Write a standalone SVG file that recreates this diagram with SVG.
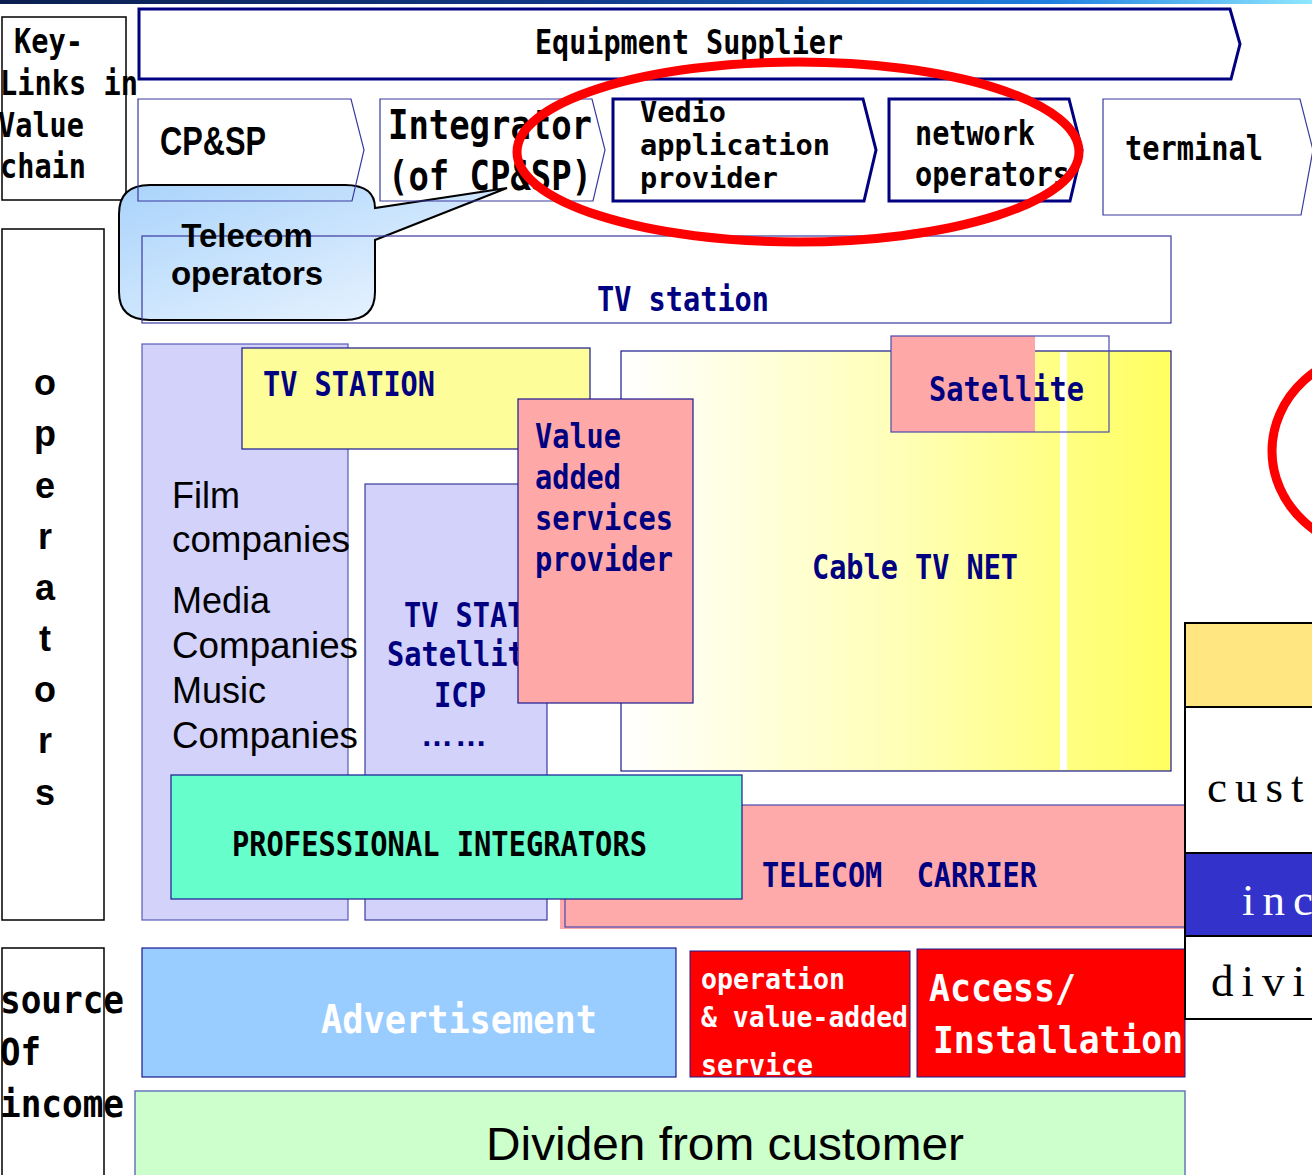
<svg xmlns="http://www.w3.org/2000/svg" width="1312" height="1175" viewBox="0 0 1312 1175">
  <defs>
    <linearGradient id="topBand" x1="0" y1="0" x2="1" y2="0">
      <stop offset="0" stop-color="#0b1f4f"/>
      <stop offset="0.45" stop-color="#123a8a"/>
      <stop offset="0.8" stop-color="#1f7fe0"/>
      <stop offset="1" stop-color="#8fe8ff"/>
    </linearGradient>
    <linearGradient id="calloutFill" x1="0" y1="0" x2="1" y2="1">
      <stop offset="0" stop-color="#a9d3fb"/>
      <stop offset="1" stop-color="#f2f8ff"/>
    </linearGradient>
    <linearGradient id="cableFill" x1="0" y1="0" x2="1" y2="0">
      <stop offset="0" stop-color="#ffffff"/>
      <stop offset="0.5" stop-color="#ffffb8"/>
      <stop offset="1" stop-color="#ffff60"/>
    </linearGradient>
    <style>
      .m { font-family: "DejaVu Sans Mono", "Liberation Mono", monospace; font-weight: bold; font-size: 33px; }
      .sans { font-family: "Liberation Sans", Arial, sans-serif; }
      .serif { font-family: "Liberation Serif", "Times New Roman", serif; font-size: 45px; letter-spacing: 8px; }
      .navy { fill: #000080; }
      .blk { fill: #000000; }
      .wht { fill: #ffffff; }
      .thick { fill: none; stroke: #000080; stroke-width: 3; }
      .thin { fill: none; stroke: #3a3aa0; stroke-width: 1.2; }
      .frame { fill: #ffffff; stroke: #000000; stroke-width: 1.5; }
      .ring { fill: none; stroke: #ff0000; stroke-width: 9; }
    </style>
  </defs>

  <rect x="0" y="0" width="1312" height="1175" fill="#ffffff"/>
  <rect x="0" y="0" width="1312" height="4" fill="url(#topBand)"/>

  <!-- left-hand legend column -->
  <g id="key-links">
    <rect class="frame" x="2" y="17" width="124" height="183"/>
    <text class="m blk" x="14" y="53" textLength="69" lengthAdjust="spacingAndGlyphs">Key-</text>
    <text class="m blk" x="0" y="95" textLength="138" lengthAdjust="spacingAndGlyphs">Links in</text>
    <text class="m blk" x="-2" y="137" textLength="86" lengthAdjust="spacingAndGlyphs">Value</text>
    <text class="m blk" x="0" y="178" textLength="86" lengthAdjust="spacingAndGlyphs">chain</text>
  </g>

  <g id="operators">
    <rect class="frame" x="2" y="229" width="102" height="691"/>
    <g class="sans blk" font-size="36" font-weight="bold" text-anchor="middle">
      <text x="45" y="395">o</text>
      <text x="45" y="446">p</text>
      <text x="45" y="498">e</text>
      <text x="45" y="549">r</text>
      <text x="45" y="600">a</text>
      <text x="45" y="651">t</text>
      <text x="45" y="702">o</text>
      <text x="45" y="753">r</text>
      <text x="45" y="805">s</text>
    </g>
  </g>

  <g id="source-of-income">
    <rect class="frame" x="2" y="948" width="102" height="240"/>
    <text class="m blk" x="0" y="1013" style="font-size:37px" textLength="124" lengthAdjust="spacingAndGlyphs">source</text>
    <text class="m blk" x="0" y="1065" style="font-size:37px" textLength="41" lengthAdjust="spacingAndGlyphs">Of</text>
    <text class="m blk" x="0" y="1117" style="font-size:37px" textLength="124" lengthAdjust="spacingAndGlyphs">income</text>
  </g>

  <!-- value chain arrows -->
  <g id="equipment-supplier">
    <polygon class="thick" points="139,9 1230,9 1240,44 1231,79 139,79"/>
    <text class="m blk" x="535" y="54" textLength="308" lengthAdjust="spacingAndGlyphs">Equipment Supplier</text>
  </g>

  <!-- speech bubble -->
  <g id="telecom-operators">
    <path d="M150,185 H345 Q375,185 375,208 L507,188 L375,240 V292 Q375,320 345,320 H150 Q119,320 119,292 V214 Q119,185 150,185 Z" fill="url(#calloutFill)" stroke="#000000" stroke-width="2"/>
  </g>

  <g id="cp-sp">
    <polygon class="thin" points="138,99 351,99 364,150 352,201 138,201"/>
    <text class="sans blk" x="160" y="155" font-size="40" font-weight="bold" textLength="106" lengthAdjust="spacingAndGlyphs">CP&amp;SP</text>
  </g>

  <g id="integrator">
    <polygon class="thin" points="380,99 592,99 605,150 593,201 380,201"/>
    <text class="m blk" x="388" y="139" style="font-size:40px" textLength="204" lengthAdjust="spacingAndGlyphs">Integrator</text>
    <text class="m blk" x="388" y="190" style="font-size:40px" textLength="204" lengthAdjust="spacingAndGlyphs">(of CP&amp;SP)</text>
  </g>

  <g id="video-app-provider">
    <polygon class="thick" points="613,99 863,99 876,150 864,201 613,201"/>
    <text class="m blk" x="640" y="122" style="font-size:28px" textLength="86" lengthAdjust="spacingAndGlyphs">Vedio</text>
    <text class="m blk" x="640" y="155" style="font-size:28px" textLength="190" lengthAdjust="spacingAndGlyphs">application</text>
    <text class="m blk" x="640" y="188" style="font-size:28px" textLength="138" lengthAdjust="spacingAndGlyphs">provider</text>
  </g>

  <g id="network-operators">
    <polygon class="thick" points="889,99 1069,99 1082,150 1070,201 889,201"/>
    <text class="m blk" x="915" y="145" textLength="120" lengthAdjust="spacingAndGlyphs">network</text>
    <text class="m blk" x="915" y="186" textLength="155" lengthAdjust="spacingAndGlyphs">operators</text>
  </g>

  <g id="terminal">
    <polygon class="thin" points="1103,99 1300,99 1313,150 1301,215 1103,215"/>
    <text class="m blk" x="1125" y="160" textLength="138" lengthAdjust="spacingAndGlyphs">terminal</text>
  </g>

  <g id="tv-station-band">
    <rect class="thin" x="142" y="236" width="1029" height="87"/>
    <text class="m navy" x="597" y="311" textLength="172" lengthAdjust="spacingAndGlyphs">TV station</text>
  </g>

  <g id="telecom-operators-label" class="sans blk" font-size="33" font-weight="bold" text-anchor="middle">
    <text x="247" y="247">Telecom</text>
    <text x="247" y="285">operators</text>
  </g>

  <!-- operator layers -->
  <g id="content-companies">
    <rect x="142" y="344" width="206" height="576" fill="#d2d2fa" stroke="#5a5ab8" stroke-width="1.2"/>
    <g class="sans blk" font-size="36">
      <text x="172" y="508">Film</text>
      <text x="172" y="552" textLength="178" lengthAdjust="spacingAndGlyphs">companies</text>
      <text x="172" y="613">Media</text>
      <text x="172" y="658" textLength="186" lengthAdjust="spacingAndGlyphs">Companies</text>
      <text x="172" y="703">Music</text>
      <text x="172" y="748" textLength="186" lengthAdjust="spacingAndGlyphs">Companies</text>
    </g>
  </g>

  <g id="tv-station">
    <rect x="242" y="348" width="348" height="101" fill="#fdfd9a" stroke="#1a1a90" stroke-width="1.2"/>
    <text class="m navy" x="263" y="396" textLength="172" lengthAdjust="spacingAndGlyphs">TV STATION</text>
  </g>

  <g id="station-column">
    <rect x="365" y="484" width="182" height="436" fill="#d2d2fa" stroke="#3a3aa0" stroke-width="1.2"/>
    <text class="m navy" x="404" y="627" textLength="172" lengthAdjust="spacingAndGlyphs">TV STATION</text>
    <text class="m navy" x="387" y="666" textLength="155" lengthAdjust="spacingAndGlyphs">Satellite</text>
    <text class="m navy" x="434" y="707" textLength="52" lengthAdjust="spacingAndGlyphs">ICP</text>
    <text class="sans navy" x="421" y="746" font-size="32" font-weight="bold" textLength="66" lengthAdjust="spacing">……</text>
  </g>

  <g id="cable-tv-net">
    <rect x="621" y="351" width="550" height="420" fill="url(#cableFill)" stroke="#1a1a90" stroke-width="1.2"/>
    <rect x="1060" y="352" width="7" height="418" fill="#ffffff"/>
    <text class="m navy" x="812" y="579" textLength="206" lengthAdjust="spacingAndGlyphs">Cable TV NET</text>
  </g>

  <g id="satellite">
    <rect x="891" y="336" width="144" height="96" fill="#ffa8a8"/>
    <rect x="891" y="336" width="218" height="96" fill="none" stroke="#4a4ab0" stroke-width="1.2"/>
    <text class="m navy" x="929" y="401" textLength="155" lengthAdjust="spacingAndGlyphs">Satellite</text>
  </g>

  <g id="value-added-provider">
    <rect x="518" y="399" width="175" height="304" fill="#ffa8a8" stroke="#1a1a90" stroke-width="1.2"/>
    <text class="m navy" x="535" y="448" textLength="86" lengthAdjust="spacingAndGlyphs">Value</text>
    <text class="m navy" x="535" y="489" textLength="86" lengthAdjust="spacingAndGlyphs">added</text>
    <text class="m navy" x="535" y="530" textLength="138" lengthAdjust="spacingAndGlyphs">services</text>
    <text class="m navy" x="535" y="571" textLength="138" lengthAdjust="spacingAndGlyphs">provider</text>
  </g>

  <g id="telecom-carrier">
    <rect x="560" y="805" width="625" height="124" fill="#ffaaaa"/>
    <rect x="565" y="805" width="620" height="122" fill="none" stroke="#4a4ab0" stroke-width="1.2"/>
    <text class="m navy" x="762" y="887" textLength="275" lengthAdjust="spacingAndGlyphs" xml:space="preserve">TELECOM  CARRIER</text>
  </g>

  <g id="professional-integrators">
    <rect x="171" y="775" width="571" height="124" fill="#66ffcc" stroke="#1a1a90" stroke-width="1.2"/>
    <text class="m blk" x="232" y="856" textLength="415" lengthAdjust="spacingAndGlyphs">PROFESSIONAL INTEGRATORS</text>
  </g>

  <!-- income sources -->
  <g id="advertisement">
    <rect x="142" y="948" width="534" height="129" fill="#99ccff" stroke="#1a1a90" stroke-width="1.2"/>
    <text class="m wht" x="321" y="1033" style="font-size:39px" textLength="276" lengthAdjust="spacingAndGlyphs">Advertisement</text>
  </g>

  <g id="operation-services">
    <rect x="690" y="951" width="220" height="126" fill="#ff0000" stroke="#1a1a90" stroke-width="1"/>
    <text class="m wht" x="701" y="989" style="font-size:29px" textLength="144" lengthAdjust="spacingAndGlyphs">operation</text>
    <text class="m wht" x="701" y="1027" style="font-size:29px" textLength="207" lengthAdjust="spacingAndGlyphs">&amp; value-added</text>
    <text class="m wht" x="701" y="1075" style="font-size:29px" textLength="112" lengthAdjust="spacingAndGlyphs">service</text>
  </g>

  <g id="access-installation">
    <rect x="917" y="949" width="268" height="128" fill="#ff0000" stroke="#1a1a90" stroke-width="1"/>
    <text class="m wht" x="929" y="1001" style="font-size:38px" textLength="147" lengthAdjust="spacingAndGlyphs">Access/</text>
    <text class="m wht" x="933" y="1053" style="font-size:38px" textLength="250" lengthAdjust="spacingAndGlyphs">Installation</text>
  </g>

  <g id="dividend">
    <rect x="135" y="1091" width="1050" height="100" fill="#ccffcc" stroke="#6677bb" stroke-width="1.5"/>
    <text class="sans blk" x="486" y="1160" font-size="46" textLength="478" lengthAdjust="spacingAndGlyphs">Dividen from customer</text>
  </g>

  <!-- side table -->
  <g id="customer-table">
    <rect x="1185" y="623" width="140" height="84" fill="#ffe680" stroke="#000000" stroke-width="2"/>
    <rect x="1185" y="707" width="140" height="146" fill="#ffffff" stroke="#000000" stroke-width="2"/>
    <rect x="1185" y="853" width="140" height="83" fill="#3333cc" stroke="#000000" stroke-width="2"/>
    <rect x="1185" y="936" width="140" height="83" fill="#ffffff" stroke="#000000" stroke-width="2"/>
    <text class="serif blk" x="1207" y="802">cust</text>
    <text class="serif wht" x="1242" y="915">inc</text>
    <text class="serif blk" x="1211" y="996">divi</text>
  </g>

  <!-- highlight rings -->
  <g id="highlights">
    <ellipse class="ring" cx="798" cy="152" rx="281" ry="90"/>
    <ellipse class="ring" cx="1382" cy="451" rx="110" ry="100"/>
  </g>
</svg>
